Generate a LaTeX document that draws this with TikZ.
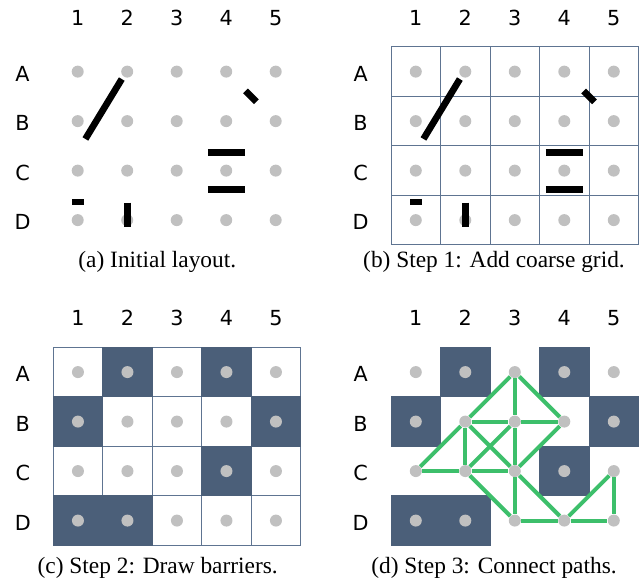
\documentclass[tikz,border=0pt]{standalone}
\usepackage{fontspec}
\setmainfont{Liberation Serif}
\newfontfamily\labelfont{DejaVu Sans}

\definecolor{dotgray}{HTML}{C0C0C0}
\definecolor{slate}{HTML}{4B5F79}
\definecolor{gridblue}{HTML}{5E7491}
\definecolor{pathgreen}{HTML}{3DBF6B}

\tikzset{
    dot/.style={circle, fill=dotgray, inner sep=0pt, minimum size=0.24cm},
    bar/.style={line width=3.8pt, black},
    coarse/.style={draw=gridblue, line width=0.6pt},
    barrier/.style={fill=slate, draw=slate, line width=0.6pt},
    link/.style={draw=pathgreen, line width=2.3pt},
    axislabel/.style={font=\labelfont\fontsize{11.8}{14}\selectfont},
    caption/.style={font=\fontsize{13.3}{16}\selectfont, anchor=base}
}

\begin{document}
\begin{tikzpicture}[x=0.99cm,y=-0.99cm]
    \useasboundingbox (0,0) rectangle (12.97,11.717);

    % (a) Initial layout
    \begin{scope}[shift={(0.57,0.447)}]
        \foreach \row [count=\i] in {A,B,C,D} {
            \node [axislabel] (aL\row) at (-0.115,\i+0.04) {\row};
            \foreach \col in {1,...,5}
                \node [dot] (a\row\col) at (\col,\i) {};
        }
        \foreach \col in {1,...,5}
            \node [axislabel] (aN\col) at (\col,-0.09) {\col};

        % Draw the obstacles
        \draw [bar] (1.89,1.15) -- (1.155,2.36);
        \draw [bar] (4.39,1.39) -- (4.61,1.61);
        \draw [bar] (3.63,2.635) -- (4.375,2.635);
        \draw [bar] (3.63,3.385) -- (4.375,3.385);
        \draw [bar] (0.89,3.635) -- (1.13,3.635);
        \draw [bar] (2,3.645) -- (2,4.13);
    \end{scope}

    % (b) Step 1: coarse grid
    \begin{scope}[shift={(7.40,0.447)}]
        \foreach \row [count=\i] in {A,B,C,D} {
            \node [axislabel] (bL\row) at (-0.115,\i+0.04) {\row};
            \foreach \col in {1,...,5} {
                \draw [coarse] (\col-0.5,\i-0.5) rectangle +(1,1);
                \node [dot] (b\row\col) at (\col,\i) {};
            }
        }
        \foreach \col in {1,...,5}
            \node [axislabel] (bN\col) at (\col,-0.09) {\col};

        % Draw the obstacles
        \draw [bar] (1.89,1.15) -- (1.155,2.36);
        \draw [bar] (4.39,1.39) -- (4.61,1.61);
        \draw [bar] (3.63,2.635) -- (4.375,2.635);
        \draw [bar] (3.63,3.385) -- (4.375,3.385);
        \draw [bar] (0.89,3.635) -- (1.13,3.635);
        \draw [bar] (2,3.645) -- (2,4.13);
    \end{scope}

    % (c) Step 2: barriers
    \begin{scope}[shift={(0.575,6.517)}]
        \foreach \row [count=\i] in {A,B,C,D}
            \foreach \col in {1,...,5}
                \draw [coarse, fill=white] (\col-0.5,\i-0.5) rectangle +(1,1);
        \foreach \col/\i in {2/1, 4/1, 1/2, 5/2, 4/3, 1/4, 2/4}
            \draw [barrier] (\col-0.5,\i-0.5) rectangle +(1,1);
        \foreach \row [count=\i] in {A,B,C,D} {
            \node [axislabel] (cL\row) at (-0.115,\i+0.04) {\row};
            \foreach \col in {1,...,5}
                \node [dot] (c\row\col) at (\col,\i) {};
        }
        \foreach \col in {1,...,5}
            \node [axislabel] (cN\col) at (\col,-0.09) {\col};
    \end{scope}

    % (d) Step 3: paths
    \begin{scope}[shift={(7.40,6.517)}]
        \foreach \col/\i in {2/1, 4/1, 1/2, 5/2, 4/3, 1/4, 2/4}
            \draw [barrier] (\col-0.5,\i-0.5) rectangle +(1,1);
        \foreach \row [count=\i] in {A,B,C,D} {
            \node [axislabel] (dL\row) at (-0.115,\i+0.04) {\row};
            \foreach \col in {1,...,5}
                \node [dot] (d\row\col) at (\col,\i) {};
        }
        \foreach \col in {1,...,5}
            \node [axislabel] (dN\col) at (\col,-0.09) {\col};

        % Connect the free points
        \foreach \p/\q in {C1/B2, B2/A3, A3/B3, A3/B4, B2/B3, B3/B4,
                           B2/C2, B2/C3, B3/C2, B4/C3, B3/C3, C1/C2,
                           C2/C3, C2/D3, C3/D3, C3/D4, D3/D4, D4/D5,
                           D4/C5, C5/D5}
            \draw [link] (d\p) -- (d\q);
    \end{scope}

    % Captions
    \node [caption] (capA) at (3.178,5.414) {(a) Initial layout.};
    \node [caption] (capB) at (9.98,5.414) {(b) Step 1: Add coarse grid.};
    \node [caption] (capC) at (3.186,11.595) {(c) Step 2: Draw barriers.};
    \node [caption] (capD) at (9.98,11.595) {(d) Step 3: Connect paths.};
\end{tikzpicture}
\end{document}
